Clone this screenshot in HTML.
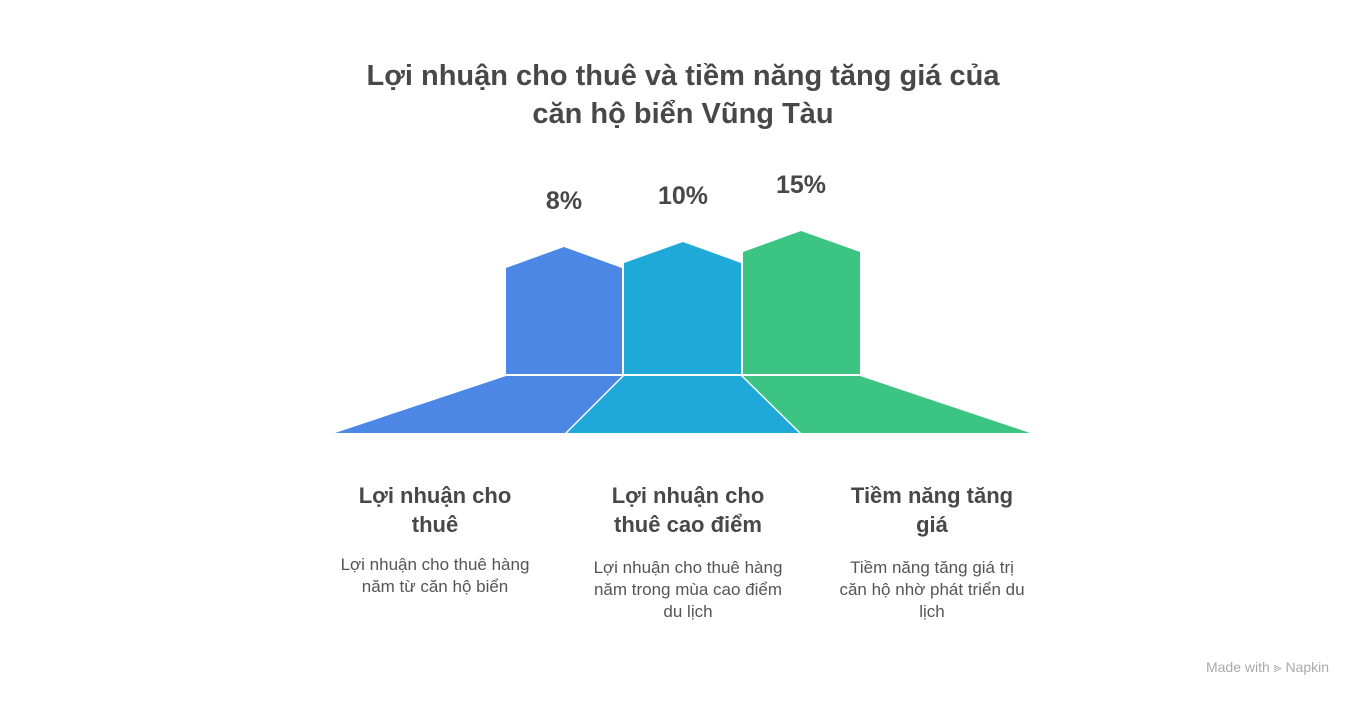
<!DOCTYPE html>
<html><head><meta charset="utf-8"><style>
body{margin:0;width:1366px;height:702px;background:#fff;overflow:hidden;font-family:"Liberation Sans",sans-serif;position:relative}
.t{position:absolute;text-align:center;color:#444}
h1{position:absolute;left:283px;width:800px;top:57px;margin:0;text-align:center;font-size:29px;line-height:38px;color:#484848;font-weight:bold}
.p{font-size:25px;font-weight:bold;color:#484848}
.h{font-size:22px;font-weight:bold;line-height:29px;color:#484848}
.d{font-size:17px;line-height:22px;color:#555}
</style></head><body>
<h1>Lợi nhuận cho thuê và tiềm năng tăng giá của<br>căn hộ biển Vũng Tàu</h1>
<svg width="1366" height="702" style="position:absolute;left:0;top:0">
<polygon points="506,268 564,247 622,268 622,374 506,374" fill="#4d87e5"/>
<polygon points="624,263 683,242 741,263 741,374 624,374" fill="#1fa9d9"/>
<polygon points="743,252 801,231 860,252 860,374 743,374" fill="#3cc482"/>
<polygon points="506,376 622,376 565,433 335,433" fill="#4d87e5"/>
<polygon points="624,376 741,376 799,433 567,433" fill="#1fa9d9"/>
<polygon points="743,376 860,376 1030,433 801,433" fill="#3cc482"/>
</svg>
<div class="t p" style="left:514px;width:100px;top:187px">8%</div>
<div class="t p" style="left:633px;width:100px;top:182px">10%</div>
<div class="t p" style="left:751px;width:100px;top:171px">15%</div>
<div class="t h" style="left:335px;width:200px;top:481px">Lợi nhuận cho<br>thuê</div>
<div class="t h" style="left:588px;width:200px;top:481px">Lợi nhuận cho<br>thuê cao điểm</div>
<div class="t h" style="left:832px;width:200px;top:481px">Tiềm năng tăng<br>giá</div>
<div class="t d" style="left:320px;width:230px;top:554px">Lợi nhuận cho thuê hàng<br>năm từ căn hộ biển</div>
<div class="t d" style="left:573px;width:230px;top:557px">Lợi nhuận cho thuê hàng<br>năm trong mùa cao điểm<br>du lịch</div>
<div class="t d" style="left:817px;width:230px;top:557px">Tiềm năng tăng giá trị<br>căn hộ nhờ phát triển du<br>lịch</div>
<div class="t" style="left:1195px;width:145px;top:659px;font-size:14px;color:#aaa">Made with ⪢ Napkin</div>
</body></html>
